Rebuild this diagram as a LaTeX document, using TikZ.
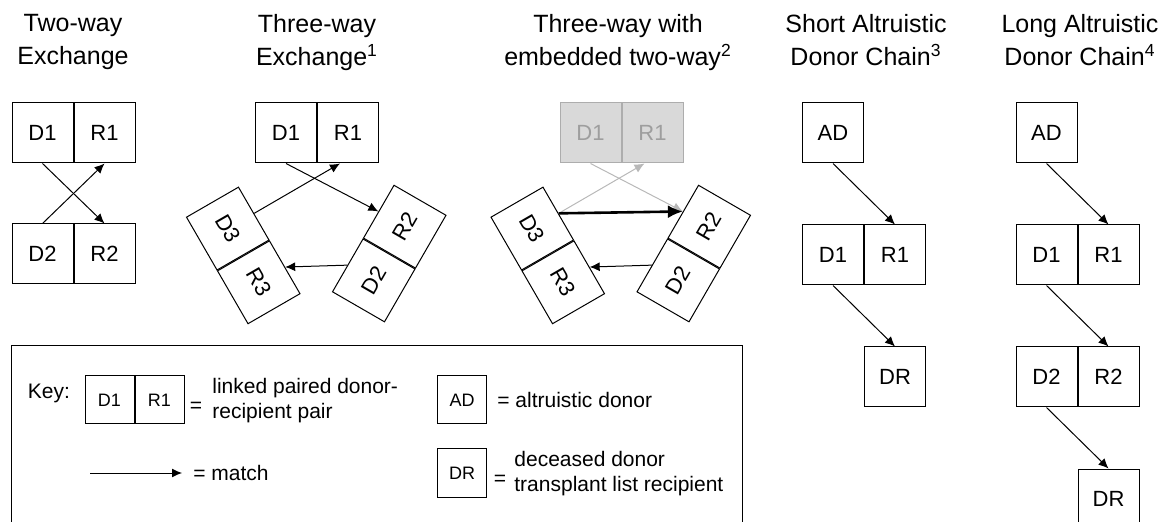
\documentclass[tikz,border=0pt]{standalone}
\usepackage{fontspec}
\setmainfont{Liberation Sans}
\usetikzlibrary{arrows,arrows.meta,shapes,calc,positioning}
\tikzstyle{cell}=[rectangle,draw,line width=0.5pt,minimum width=30.5pt,minimum height=30pt,inner sep=0pt,font=\fontsize{11}{13}\selectfont]
\tikzstyle{greycell}=[cell,draw=black!32,fill=black!15,text=black!38]
\tikzstyle{keycell}=[rectangle,draw,line width=0.5pt,minimum width=24.5pt,minimum height=24pt,inner sep=0pt,font=\fontsize{9}{11}\selectfont]
\tikzstyle{matchedge} = [draw,line width=0.5pt,-{Latex[length=5pt,width=4.5pt]}]
\tikzstyle{greyedge} = [draw=black!28,line width=0.5pt,-{Latex[length=5pt,width=4.5pt]}]
\tikzstyle{boldedge} = [draw,line width=1.3pt,-{Latex[length=7.5pt,width=6.5pt]}]
\tikzstyle{heading} = [align=center,inner sep=0pt,anchor=north,font=\fontsize{12.5}{16.5}\selectfont]
\tikzstyle{keytext} = [inner sep=0pt,font=\fontsize{10.5}{12.5}\selectfont]

\begin{document}
\begin{tikzpicture}[x=0.5pt,y=-0.5pt,node distance=30.5pt]

   \useasboundingbox (0,0) rectangle (1159,522);
   \clip (0,0) rectangle (1159,522);

% Headings
   \node[heading] (tA) at (73,14) {Two-way\\Exchange};
   \node[heading] (tB) at (317,14) {Three-way\\Exchange\textsuperscript{1}};
   \node[heading] (tC) at (618,14) {Three-way with\\embedded two-way\textsuperscript{2}};
   \node[heading] (tD) at (866,14) {Short Altruistic\\Donor Chain\textsuperscript{3}};
   \node[heading] (tE) at (1080,14) {Long Altruistic\\Donor Chain\textsuperscript{4}};

%Two-way
    \foreach \pos/\name/\label in {{(42.5,133)/aD1/D1}, {(42.5,254)/aD2/D2}}
        \node[cell] (\name) at \pos {\label};
    \node[cell,right=0pt of aD1] (aR1) {R1};
    \node[cell,right=0pt of aD2] (aR2) {R2};

    \foreach \source/ \dest in {aD1.south/aR2.north, aD2.north/aR1.south}
        \path[matchedge] (\source) -- (\dest);

%Three-way
    \node[cell] (bD1) at (286,133) {D1};
    \node[cell,right=0pt of bD1] (bR1) {R1};
    \node[cell,rotate=60] (bD2) at (373.75,280.4) {D2};
    \node[cell,rotate=60,right=0pt of bD2] (bR2) {R2};
    \node[cell,rotate=-60] (bD3) at (227.75,228.6) {D3};
    \node[cell,rotate=-60,right=0pt of bD3] (bR3) {R3};

    \foreach \source/ \dest in {bD1.south/bR2.north, bD2.north/bR3.north}
        \path[matchedge] (\source) -- (\dest);
    \path[matchedge] (bD3.north) -- ([xshift=-4pt]bR1.south);

%Three-way with embedded two-way
    \node[greycell] (cD1) at (590.5,133) {D1};
    \node[greycell,right=0pt of cD1] (cR1) {R1};
    \node[cell,rotate=60] (cD2) at (678.25,280.4) {D2};
    \node[cell,rotate=60,right=0pt of cD2] (cR2) {R2};
    \node[cell,rotate=-60] (cD3) at (532.25,228.6) {D3};
    \node[cell,rotate=-60,right=0pt of cD3] (cR3) {R3};

    \path[greyedge] (cD1.south) -- (cR2.north);
    \path[greyedge] (cD3.north) -- ([xshift=-4pt]cR1.south);
    \path[boldedge] (cD3.north) -- (cR2.north);
    \path[matchedge] (cD2.north) -- (cR3.north);

%Short chain
    \node[cell] (dAD) at (833,133) {AD};
    \node[cell,below=of dAD] (dD1) {D1};
    \node[cell,right=0pt of dD1] (dR1) {R1};
    \node[cell,below=of dR1] (dDR) {DR};

    \foreach \source/ \dest in {dAD.south/dR1.north, dD1.south/dDR.north}
        \path[matchedge] (\source) -- (\dest);

%Long chain
    \node[cell] (eAD) at (1046.5,133) {AD};
    \node[cell,below=of eAD] (eD1) {D1};
    \node[cell,right=0pt of eD1] (eR1) {R1};
    \node[cell,below=of eD1] (eD2) {D2};
    \node[cell,right=0pt of eD2] (eR2) {R2};
    \node[cell,below=of eR2] (eDR) {DR};

    \foreach \source/ \dest in {eAD.south/eR1.north, eD1.south/eR2.north, eD2.south/eDR.north}
        \path[matchedge] (\source) -- (\dest);

%Key
    \draw[line width=0.5pt] (11,540) |- (742,346) -- (742,540);

    \node[keytext] (key) at (49,393) {Key:};
    \node[keycell] (kD1) at (109.5,400) {D1};
    \node[keycell,right=0pt of kD1] (kR1) {R1};
    \node[keytext] (keqA) at (196,407) {=};
    \node[keytext,anchor=north west,align=left] (kpair) at (212,378) {linked paired donor-\\recipient pair};

    \node[keycell] (kAD) at (462,400) {AD};
    \node[keytext,anchor=west] (kalt) at (497,400) {= altruistic donor};

    \coordinate (kA) at (90,473);
    \coordinate (kB) at (182,473);
    \path[matchedge] (kA) -- (kB);
    \node[keytext,anchor=west] (kmatch) at (193,473) {= match};

    \node[keycell] (kDR) at (462,473) {DR};
    \node[keytext] (keqB) at (500,480) {=};
    \node[keytext,anchor=north west,align=left] (kdec) at (514,451) {deceased donor\\transplant list recipient};

\end{tikzpicture}
\end{document}
